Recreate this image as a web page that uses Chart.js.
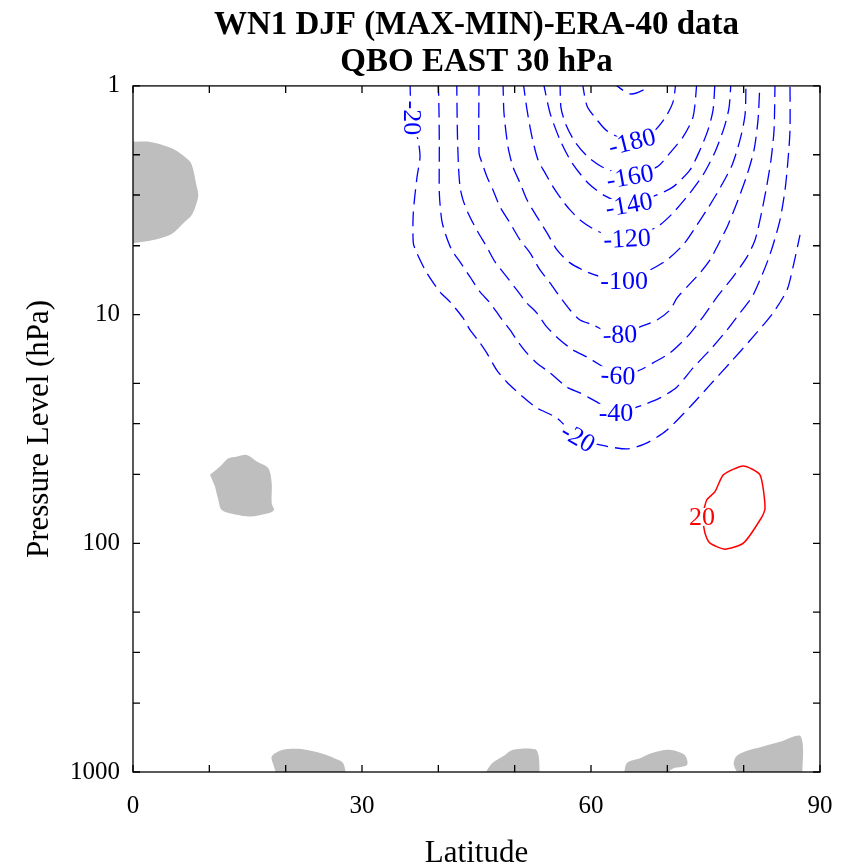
<!DOCTYPE html>
<html>
<head>
<meta charset="utf-8">
<script src="https://cdn.jsdelivr.net/npm/chart.js@4/dist/chart.umd.min.js"></script>
<style>
html,body{margin:0;padding:0;background:#ffffff;}
#wrap{width:846px;height:867px;}
</style>
</head>
<body>
<div id="wrap"><canvas id="c" width="846" height="867"></canvas></div>
<script>
// ---------------- DATA (latitude in degrees, pressure in hPa) ----------------
const titleLines = ['WN1 DJF (MAX-MIN)-ERA-40 data', 'QBO EAST 30 hPa'];
const xTickValues = [0, 10, 20, 30, 40, 50, 60, 70, 80, 90];
const xTickLabels = {0: '0', 30: '30', 60: '60', 90: '90'};
const yTickValues = [1, 2, 3, 5, 10, 20, 30, 50, 100, 200, 300, 500, 1000];
const yTickLabels = {1: '1', 10: '10', 100: '100', 1000: '1000'};

// negative contours (dashed, blue) as [latitude, pressure]
const cM20 = [[36.29,0.95],[36.35,1.151],[36.51,1.38],[37.34,1.722],[37.60,2.044],[37.21,2.50],[36.72,3.592],[36.72,4.859],[37.17,5.373],[38.48,6.573],[40.22,7.957],[41.53,8.80],[43.23,10.34],[44.15,11.67],[45.46,13.30],[46.34,14.71],[47.65,17.47],[48.96,19.70],[51.09,22.90],[52.89,25.58],[55.51,28.29],[58.30,34.60],[61.18,37.13],[64.85,38.66],[67.34,36.39],[69.96,31.96],[72.97,25.32],[75.59,20.29],[78.21,16.26],[81.23,12.52],[83.85,9.83],[85.68,7.803],[86.47,6.184],[87.38,4.482]];
const cM40 = [[40.0,0.95],[40.09,1.313],[40.13,1.848],[40.13,2.937],[40.44,3.854],[40.88,4.392],[41.75,5.214],[42.84,5.884],[44.15,6.843],[45.46,7.957],[46.77,8.886],[48.08,10.23],[49.39,11.67],[50.27,12.91],[51.58,14.71],[52.89,16.26],[54.63,17.98],[56.82,20.71],[58.56,22.00],[60.75,24.08],[63.28,26.90],[66.81,24.82],[69.04,23.13],[71.27,20.71],[73.37,17.10],[75.59,14.28],[77.82,11.67],[79.52,9.83],[81.10,8.37],[82.41,6.71],[83.19,5.77],[83.85,4.96],[84.76,3.855],[85.42,2.850],[85.81,2.107],[86.07,1.557],[86.07,0.95]];
const cM60 = [[42.41,0.95],[42.49,1.557],[42.62,2.171],[42.84,2.764],[43.23,3.152],[43.89,3.592],[45.03,4.264],[46.34,5.058],[47.43,5.884],[48.96,6.843],[50.27,7.803],[51.58,8.886],[52.89,9.83],[54.20,11.32],[55.94,12.91],[57.64,14.28],[59.44,15.31],[61.18,16.60],[63.54,18.54],[66.42,17.47],[68.13,16.26],[70.35,14.71],[72.58,12.52],[74.68,10.23],[76.52,8.37],[78.61,6.843],[80.44,5.594],[81.49,4.716],[82.14,3.855],[82.93,2.850],[83.58,2.107],[83.98,1.557],[84.11,0.95]];
const cM80 = [[45.33,0.95],[45.33,1.963],[45.72,2.171],[46.38,2.500],[47.16,2.850],[48.08,3.381],[49.39,3.972],[50.70,4.716],[52.01,5.373],[53.32,6.379],[54.63,7.268],[55.94,8.37],[57.25,9.544],[58.56,10.556],[60.26,11.09],[61.84,11.79],[63.80,12.27],[66.42,11.32],[68.65,10.556],[70.35,9.544],[71.27,8.45],[72.58,7.566],[74.28,6.573],[75.59,5.768],[76.64,4.96],[77.95,4.053],[79.26,3.152],[80.44,2.450],[81.36,1.905],[81.88,1.408],[82.14,0.95]];
const cM100 = [[48.47,0.95],[48.60,1.313],[49.13,1.848],[49.78,2.261],[50.70,2.656],[51.62,3.152],[52.93,3.739],[54.24,4.392],[55.55,5.215],[57.25,5.942],[59.48,6.506],[61.84,6.911],[64.33,7.123],[67.73,6.379],[69.96,5.768],[72.06,4.96],[73.63,4.177],[75.34,3.416],[76.91,2.793],[78.49,2.215],[79.52,1.722],[80.18,1.339],[80.31,0.95]];
const cM120 = [[51.09,0.95],[51.62,1.273],[52.27,1.671],[53.06,2.107],[53.98,2.401],[55.03,2.764],[56.20,3.152],[57.25,3.486],[58.56,3.855],[60.53,4.264],[62.49,4.529],[64.72,4.667],[68.65,4.135],[70.75,3.592],[72.97,2.937],[74.68,2.450],[76.25,1.944],[77.43,1.526],[78.08,1.248],[78.35,0.95]];
const cM140 = [[53.71,0.95],[54.63,1.313],[55.94,1.722],[57.51,2.171],[59.61,2.656],[61.84,3.027],[64.98,3.314],[68.65,2.997],[70.75,2.764],[72.97,2.330],[74.28,1.905],[75.33,1.557],[75.99,1.273],[76.25,0.95]];
const cM160 = [[55.94,0.95],[56.07,1.248],[56.73,1.481],[57.91,1.758],[59.61,2.044],[61.71,2.283],[65.11,2.500],[68.65,2.261],[70.35,1.963],[72.06,1.671],[73.37,1.366],[73.89,0.95]];
const cM180 = [[58.82,0.95],[59.48,1.223],[60.79,1.408],[62.10,1.573],[65.37,1.758],[68.13,1.589],[69.70,1.380],[70.75,1.175],[71.14,0.95]];
const cM200 = [[62.7,0.95],[63.4,1.0],[65.11,1.084],[66.9,1.04],[67.8,0.97],[68.3,0.93]];
// positive contour (solid, red)
const cP20 = [[74.55,76.7],[75.16,64.68],[76.25,59.4],[77.34,50.2],[79.96,45.9],[82.14,50.2],[82.80,70.2],[82.14,79.1],[79.96,99.9],[77.56,106.1],[75.59,99.9],[74.94,90.3],[74.55,76.7]];

// shaded (grey) regions
const shadeA = [[0,1.752],[2.45,1.763],[5.07,1.873],[6.16,1.969],[7.47,2.143],[7.90,2.330],[8.25,2.664],[8.55,2.996],[8.25,3.314],[7.69,3.665],[6.59,3.984],[5.07,4.437],[2.66,4.714],[0,4.873]];
const shadeB = [[10.09,50.2],[11.40,46.2],[12.49,42.5],[13.59,41.8],[14.90,41.1],[16.21,43.9],[17.73,47.0],[18.17,54.6],[18.17,66.8],[18.47,71.5],[17.73,73.9],[15.33,76.4],[13.59,75.1],[11.62,71.5],[11.18,64.7],[10.74,56.5]];
const shadeC = [[19.06,1100],[18.47,947],[18.18,856],[19.65,800],[22.27,795],[24.63,828],[26.37,870],[27.54,915],[28.01,1100]];
const shadeD = [[45.67,1100],[46.84,931],[48.59,850],[49.77,800],[52.69,795],[53.16,856],[53.27,1100]];
const shadeE = [[64.27,1100],[64.68,915],[66.44,870],[67.90,828],[70.23,800],[72.28,843],[72.58,931],[70.82,962],[70.12,1006],[70.0,1100]];
const shadeF = [[79.89,1100],[78.71,931],[79.01,856],[80.18,814],[82.52,774],[84.86,736],[87.49,700],[87.66,1100]];

// contour labels: which contour, which vertex, text, angle (deg)
const contourLabels = [
  {line: cM20, at: 2, text: '-20', angle: 90, color: '#0000ff'},
  {line: cM20, at: 21, text: '-20', angle: 30, color: '#0000ff'},
  {line: cM40, at: 20, text: '-40', angle: 0, color: '#0000ff'},
  {line: cM60, at: 18, text: '-60', angle: 3, color: '#0000ff'},
  {line: cM80, at: 16, text: '-80', angle: -2, color: '#0000ff'},
  {line: cM100, at: 12, text: '-100', angle: 0, color: '#0000ff'},
  {line: cM120, at: 11, text: '-120', angle: -3, color: '#0000ff'},
  {line: cM140, at: 6, text: '-140', angle: -10, color: '#0000ff'},
  {line: cM160, at: 6, text: '-160', angle: -10, color: '#0000ff'},
  {line: cM180, at: 4, text: '-180', angle: -14, color: '#0000ff'},
  {line: cP20, at: 0, text: '20', angle: 0, color: '#ff0000'}
];

// ---------------- CHART ----------------
const FONT = "'Liberation Serif', 'Times New Roman', serif";
const toXY = arr => arr.map(p => ({x: p[0], y: p[1]}));

const shadeSets = [shadeA, shadeB, shadeC, shadeD, shadeE, shadeF].map(s => ({
  data: toXY(s), polygon: true, showLine: true, pointRadius: 0,
  borderWidth: 0, borderColor: 'rgba(0,0,0,0)', backgroundColor: '#bebebe',
  fill: false, tension: 0.3
}));
const negSets = [cM20, cM40, cM60, cM80, cM100, cM120, cM140, cM160, cM180, cM200].map(c => ({
  data: toXY(c), showLine: true, pointRadius: 0, borderColor: '#0000ff',
  borderWidth: 1.3, borderDash: [15, 7], fill: false, tension: 0.25
}));
const posSets = [cP20].map(c => ({
  data: toXY(c), showLine: true, pointRadius: 0, borderColor: '#ff0000',
  borderWidth: 1.5, fill: false, tension: 0.2
}));

const polygonFill = {
  id: 'polygonFill',
  beforeDatasetsDraw(chart) {
    const ctx = chart.ctx, a = chart.chartArea;
    ctx.save();
    ctx.beginPath();
    ctx.rect(a.left, a.top, a.right - a.left, a.bottom - a.top);
    ctx.clip();
    chart.data.datasets.forEach((ds, i) => {
      if (!ds.polygon) return;
      const line = chart.getDatasetMeta(i).dataset;
      if (!line) return;
      if (line.updateControlPoints) line.updateControlPoints(a, 'x');
      ctx.beginPath();
      line.path(ctx);
      ctx.closePath();
      ctx.fillStyle = ds.backgroundColor;
      ctx.fill();
    });
    ctx.restore();
  }
};

const labelPlugin = {
  id: 'contourLabels',
  afterDatasetsDraw(chart) {
    const ctx = chart.ctx, a = chart.chartArea;
    const xs = chart.scales.x, ys = chart.scales.y;
    ctx.save();
    ctx.beginPath();
    ctx.rect(a.left, a.top, a.right - a.left, a.bottom - a.top);
    ctx.clip();
    ctx.font = "26px " + FONT;
    ctx.textAlign = 'center';
    ctx.textBaseline = 'middle';
    contourLabels.forEach(l => {
      const pt = l.line[l.at];
      const x = xs.getPixelForValue(pt[0]);
      const y = ys.getPixelForValue(pt[1]);
      ctx.save();
      ctx.translate(x, y);
      ctx.rotate(l.angle * Math.PI / 180);
      const w = ctx.measureText(l.text).width;
      ctx.fillStyle = '#ffffff';
      ctx.fillRect(-w / 2 - 2, -9, w + 4, 18);
      ctx.fillStyle = l.color;
      ctx.fillText(l.text, 0, 1);
      ctx.restore();
    });
    ctx.restore();
  }
};

const framePlugin = {
  id: 'frame',
  afterDraw(chart) {
    const ctx = chart.ctx, a = chart.chartArea;
    const xs = chart.scales.x, ys = chart.scales.y;
    const L = 7;
    ctx.save();
    ctx.strokeStyle = '#000000';
    ctx.lineWidth = 1.3;
    ctx.strokeRect(a.left, a.top, a.right - a.left, a.bottom - a.top);
    ctx.beginPath();
    xs.ticks.forEach(t => {
      const x = xs.getPixelForValue(t.value);
      ctx.moveTo(x, a.bottom); ctx.lineTo(x, a.bottom - L);
      ctx.moveTo(x, a.top); ctx.lineTo(x, a.top + L);
    });
    ys.ticks.forEach(t => {
      const y = ys.getPixelForValue(t.value);
      ctx.moveTo(a.left, y); ctx.lineTo(a.left + L, y);
      ctx.moveTo(a.right, y); ctx.lineTo(a.right - L, y);
    });
    ctx.stroke();
    ctx.restore();
  }
};

new Chart(document.getElementById('c'), {
  type: 'scatter',
  data: {datasets: [...shadeSets, ...negSets, ...posSets]},
  options: {
    responsive: false,
    devicePixelRatio: 1,
    animation: false,
    events: [],
    layout: {padding: {left: 0, right: 26, top: 0, bottom: 0}},
    plugins: {
      legend: {display: false},
      tooltip: {enabled: false},
      title: {
        display: true, fullSize: false, text: titleLines, color: '#000000',
        font: {family: FONT, size: 33, weight: 'bold', lineHeight: 1.15},
        padding: {top: 6, bottom: 4}
      }
    },
    scales: {
      x: {
        type: 'linear', position: 'bottom', min: 0, max: 90,
        afterBuildTicks: s => { s.ticks = xTickValues.map(v => ({value: v})); },
        afterFit: s => { s.height = 95; s.paddingLeft = 0; s.paddingRight = 0; },
        ticks: {
          autoSkip: false, maxRotation: 0, color: '#000000', padding: 19,
          font: {family: FONT, size: 25, lineHeight: 1.2},
          callback: v => (xTickLabels[v] !== undefined ? xTickLabels[v] : '')
        },
        grid: {display: false, drawTicks: false},
        border: {display: false},
        title: {display: true, text: 'Latitude', color: '#000000',
          font: {family: FONT, size: 31, lineHeight: 0.85}, padding: {top: 0, bottom: 0}}
      },
      y: {
        type: 'logarithmic', position: 'left', min: 1, max: 1000, reverse: true,
        afterBuildTicks: s => { s.ticks = yTickValues.map(v => ({value: v})); },
        afterFit: s => { s.width = 133; },
        ticks: {
          autoSkip: false, color: '#000000', padding: 13,
          font: {family: FONT, size: 25},
          callback: v => (yTickLabels[v] !== undefined ? yTickLabels[v] : '')
        },
        grid: {display: false, drawTicks: false},
        border: {display: false},
        title: {display: true, text: 'Pressure Level (hPa)', color: '#000000',
          font: {family: FONT, size: 31, lineHeight: 1.0}, padding: {top: 24, bottom: 0}}
      }
    }
  },
  plugins: [polygonFill, labelPlugin, framePlugin]
});
</script>
</body>
</html>
